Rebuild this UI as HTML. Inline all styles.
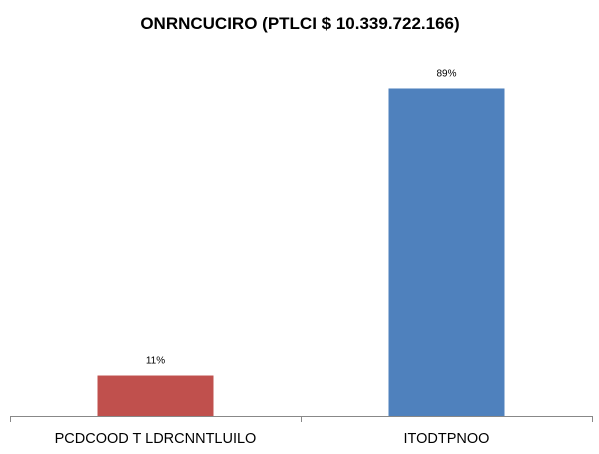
<!DOCTYPE html>
<html><head><meta charset="utf-8"><style>
body{margin:0;background:#fff;}
svg{display:block;font-family:"Liberation Sans",sans-serif;}
</style></head><body>
<svg id="chart" width="599" height="454">
<text x="300" y="29" text-anchor="middle" font-size="17" font-weight="bold" fill="#000">ONRNCUCIRO (PTLCI $ 10.339.722.166)</text>
<g id="plot"></g>
</svg>
<script>
const categories=["PCDCOOD T LDRCNNTLUILO","ITODTPNOO"];
const values=[11,89];
const valueLabels=["11%","89%"];
const colors=["#c0504d","#4f81bd"];
const ns="http://www.w3.org/2000/svg";
const g=document.getElementById('plot');
const x0=10,x1=592,base=416,h100=368;
const bw=(x1-x0)/categories.length;
function y(v){return base-v/100*h100;}
function mk(t,a){const e=document.createElementNS(ns,t);for(const k in a)e.setAttribute(k,a[k]);g.appendChild(e);return e;}
categories.forEach((c,i)=>{
 const cx=x0+bw*(i+0.5), w=116;
 const r=mk('rect',{x:cx-w/2,y:y(values[i]),width:w,height:base-y(values[i]),fill:colors[i]});
 
 
 const vl=mk('text',{x:cx,y:y(values[i])-12,'text-anchor':'middle','font-size':'10',fill:'#000'});
 vl.textContent=valueLabels[i];
 
 
 const cl=mk('text',{x:cx,y:443,'text-anchor':'middle','font-size':'14.5',fill:'#000'});
 cl.textContent=c;
 
 
});
const ax=mk('line',{x1:x0,y1:base+0.5,x2:x1,y2:base+0.5,stroke:'#888','stroke-width':1});


for(let i=0;i<=categories.length;i++){
 const tx=Math.round(x0+bw*i)+0.5;
 const t=mk('line',{x1:tx,y1:base,x2:tx,y2:base+6,stroke:'#888','stroke-width':1});
 
 
}
</script>
</body></html>
